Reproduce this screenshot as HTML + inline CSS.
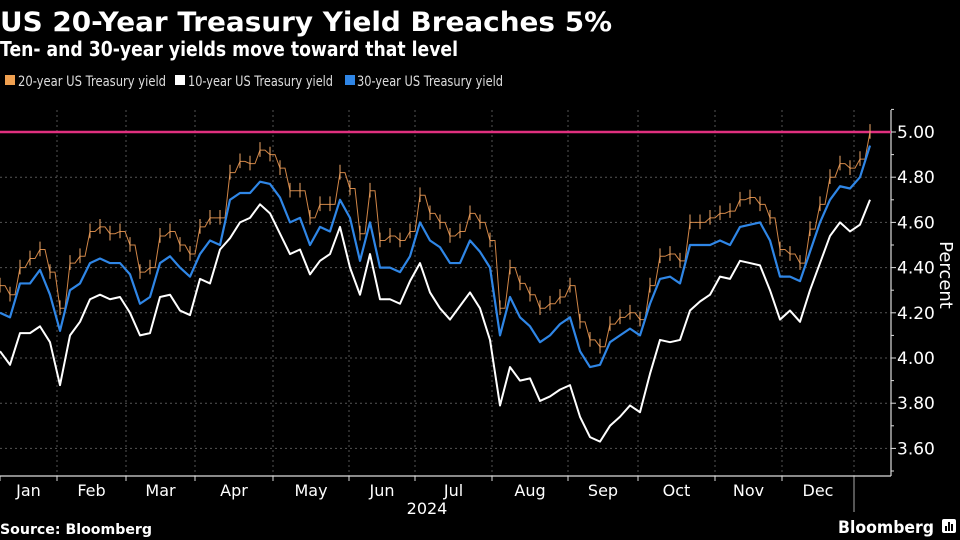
<!DOCTYPE html>
<html><head><meta charset="utf-8"><style>
html,body{margin:0;padding:0;background:#000;}
svg{display:block;font-family:"DejaVu Sans","Liberation Sans",sans-serif;}
</style></head><body>
<svg id="chart" width="960" height="540" viewBox="0 0 960 540">
<rect width="960" height="540" fill="#000"/>
<text x="0" y="31" fill="#fff" font-weight="bold" font-size="27" textLength="612" lengthAdjust="spacingAndGlyphs">US 20-Year Treasury Yield Breaches 5%</text>
<text x="0" y="56" fill="#fff" font-weight="bold" font-size="20" textLength="458" lengthAdjust="spacingAndGlyphs">Ten- and 30-year yields move toward that level</text>
<g>
<g><rect x="5" y="75" width="10" height="10" fill="#f0a050"/><text x="18" y="86" fill="#ddd" font-size="14" textLength="148" lengthAdjust="spacingAndGlyphs">20-year US Treasury yield</text></g>
<g><rect x="175" y="75" width="10" height="10" fill="#fff"/><text x="188" y="86" fill="#ddd" font-size="14" textLength="145" lengthAdjust="spacingAndGlyphs">10-year US Treasury yield</text></g>
<g><rect x="345" y="75" width="10" height="10" fill="#2f86e6"/><text x="357" y="86" fill="#ddd" font-size="14" textLength="146" lengthAdjust="spacingAndGlyphs">30-year US Treasury yield</text></g>
</g>
<g id="grid"></g>
<g id="axes"></g>
<g id="series"></g>
<text x="0" y="534" fill="#fff" font-weight="bold" font-size="14" textLength="152" lengthAdjust="spacingAndGlyphs">Source: Bloomberg</text>
<text x="838" y="533" fill="#fff" font-weight="bold" font-size="17" textLength="96" lengthAdjust="spacingAndGlyphs">Bloomberg</text>
<g><rect x="942" y="519" width="14" height="14" rx="2" fill="#fff"/><rect x="945" y="526" width="2" height="5" fill="#000"/><rect x="948" y="522" width="2" height="9" fill="#000"/><rect x="951" y="524" width="2" height="7" fill="#000"/></g>
<text transform="translate(940,275) rotate(90)" fill="#fff" font-size="18" text-anchor="middle">Percent</text>
</svg>
<script>
const yTicks=[5.00,4.80,4.60,4.40,4.20,4.00,3.80,3.60];
const yTickLabels=["5.00","4.80","4.60","4.40","4.20","4.00","3.80","3.60"];
const months=["Jan","Feb","Mar","Apr","May","Jun","Jul","Aug","Sep","Oct","Nov","Dec"];
const monthStarts=[0,5.7,12.6,19.5,27.3,34.9,41.5,49.2,56.8,63.8,71.5,78.2,85.4];
const threshold=5.0;
const y10=[4.03,3.97,4.11,4.11,4.14,4.07,3.88,4.10,4.16,4.26,4.28,4.26,4.27,4.20,4.10,4.11,4.27,4.28,4.21,4.19,4.35,4.33,4.48,4.53,4.60,4.62,4.68,4.64,4.55,4.46,4.48,4.37,4.43,4.46,4.58,4.40,4.28,4.46,4.26,4.26,4.24,4.34,4.42,4.29,4.22,4.17,4.23,4.29,4.22,4.08,3.79,3.96,3.90,3.91,3.81,3.83,3.86,3.88,3.74,3.65,3.63,3.70,3.74,3.79,3.76,3.93,4.08,4.07,4.08,4.21,4.25,4.28,4.36,4.35,4.43,4.42,4.41,4.30,4.17,4.21,4.16,4.30,4.42,4.54,4.60,4.56,4.59,4.70];
const y30=[4.20,4.18,4.33,4.33,4.39,4.28,4.12,4.30,4.33,4.42,4.44,4.42,4.42,4.37,4.24,4.27,4.42,4.45,4.40,4.36,4.46,4.52,4.50,4.70,4.73,4.73,4.78,4.77,4.71,4.60,4.62,4.50,4.58,4.56,4.70,4.62,4.43,4.60,4.40,4.40,4.38,4.45,4.60,4.52,4.49,4.42,4.42,4.52,4.47,4.40,4.10,4.27,4.18,4.14,4.07,4.10,4.15,4.18,4.03,3.96,3.97,4.07,4.10,4.13,4.10,4.24,4.35,4.36,4.33,4.50,4.50,4.50,4.52,4.50,4.58,4.59,4.60,4.52,4.36,4.36,4.34,4.47,4.60,4.70,4.76,4.75,4.80,4.94];
const y20=[4.32,4.28,4.40,4.44,4.48,4.38,4.22,4.42,4.45,4.56,4.58,4.55,4.56,4.50,4.38,4.40,4.54,4.56,4.50,4.46,4.58,4.62,4.62,4.82,4.87,4.86,4.92,4.90,4.84,4.74,4.74,4.62,4.68,4.68,4.82,4.75,4.55,4.74,4.52,4.54,4.52,4.56,4.72,4.64,4.60,4.54,4.56,4.64,4.60,4.52,4.22,4.40,4.33,4.28,4.22,4.24,4.27,4.32,4.16,4.08,4.05,4.15,4.18,4.20,4.17,4.32,4.45,4.46,4.43,4.60,4.60,4.62,4.64,4.65,4.70,4.71,4.68,4.62,4.48,4.46,4.42,4.57,4.68,4.80,4.86,4.84,4.88,5.00];

const NS="http://www.w3.org/2000/svg";
const X0=0,X1=870,AX=891,AY=476;
function x(i){return X0+i*(X1-X0)/87;}
function y(v){return 132+(5-v)*226;}
function mk(tag,attrs,parent){const e=document.createElementNS(NS,tag);for(const k in attrs)e.setAttribute(k,attrs[k]);parent.appendChild(e);return e;}
const grid=document.getElementById('grid'),axes=document.getElementById('axes'),ser=document.getElementById('series');
yTicks.forEach((v,k)=>{
  const g=mk('line',{x1:0,x2:AX,y1:y(v),y2:y(v),stroke:'#555','stroke-dasharray':'2,3','stroke-width':1},grid);
  
  
  const t=mk('line',{x1:AX,x2:AX+5,y1:y(v),y2:y(v),stroke:'#ddd'},axes);
  
  
  const l=mk('text',{x:AX+6,y:y(v)+6,fill:'#fff','font-size':17},axes);
  l.textContent=yTickLabels[k];
  
  
});
[5.1,4.9,4.7,4.5,4.3,4.1,3.9,3.7,3.5].forEach(v=>{mk('line',{x1:AX,x2:AX+3,y1:y(v),y2:y(v),stroke:'#ddd'},axes);});
monthStarts.forEach((m,k)=>{
  if(k>0){const g=mk('line',{x1:x(m),x2:x(m),y1:110,y2:AY,stroke:'#555','stroke-dasharray':'2,3'},grid);
  
  }
  const t=mk('line',{x1:x(m),x2:x(m),y1:AY,y2:AY+5,stroke:'#ddd'},axes);
  
  
  if(k<months.length){
    const l=mk('text',{x:(x(m)+x(monthStarts[k+1]))/2,y:AY+20,fill:'#fff','font-size':16,'text-anchor':'middle'},axes);
    l.textContent=months[k];
    
    
  }
});
mk('line',{x1:x(monthStarts[12]),x2:x(monthStarts[12]),y1:AY,y2:512,stroke:'#aaa'},axes);
const yr=mk('text',{x:427,y:514,fill:'#fff','font-size':16,'text-anchor':'middle'},axes);
yr.textContent='2024';


mk('line',{x1:0,x2:AX,y1:AY,y2:AY,stroke:'#ddd','stroke-width':1.2},axes);
mk('line',{x1:AX,x2:AX,y1:110,y2:AY,stroke:'#ddd','stroke-width':1.2},axes);
const th=mk('line',{x1:0,x2:AX,y1:y(threshold),y2:y(threshold),stroke:'#e0307f','stroke-width':2.5},ser);


// 20y bars
let d='';
y20.forEach((v,i)=>{
  d+=(i?'L':'M')+x(i)+','+y(v)+' ';
  if(i<y20.length-1)d+='L'+x(i+0.5)+','+y(v)+' ';
});
const p20=mk('path',{d:d,fill:'none',stroke:'#e8954f','stroke-width':1,opacity:0.9},ser);


y20.forEach((v,i)=>{
  const b=mk('line',{x1:x(i),x2:x(i),y1:y(v+0.035),y2:y(v-0.03),stroke:'#f0a868','stroke-width':1},ser);
  
  
});
function line(arr,color,w,name){
  const p=mk('path',{d:arr.map((v,i)=>(i?'L':'M')+x(i)+','+y(v)).join(' '),fill:'none',stroke:color,'stroke-width':w,'stroke-linejoin':'round'},ser);
  
  
}
line(y30,'#2f86e6',2.2,'series-30y');
line(y10,'#ffffff',2,'series-10y');
</script>
</body></html>
